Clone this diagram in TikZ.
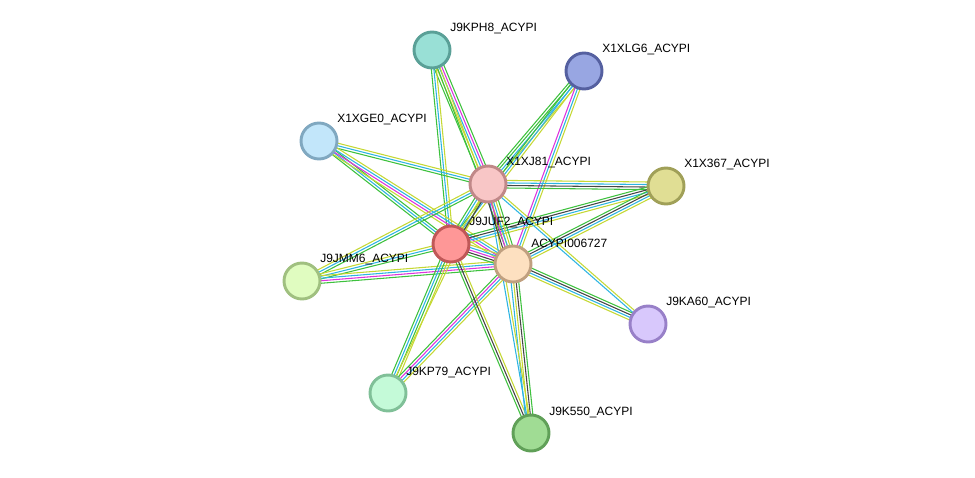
\documentclass[tikz,border=0pt]{standalone}
\usepackage{fontspec}
\newfontfamily\labelfont{Liberation Sans}
\usetikzlibrary{calc,positioning}
\pgfdeclarelayer{background}
\pgfsetlayers{background,main}

\definecolor{nbcol}{HTML}{3EC13E}
\definecolor{tmcol}{HTML}{C5D834}
\definecolor{dbcol}{HTML}{2DB4E2}
\definecolor{excol}{HTML}{DD33DD}
\definecolor{cxcol}{HTML}{454545}

\tikzset{
	protein/.style={circle, minimum size=27pt, inner sep=0pt, line width=2.2pt},
	plabel/.style={anchor=west, inner sep=0pt, font=\labelfont\fontsize{9}{10}\selectfont},
	evidence/.style={line width=0.8pt}
}

% one line per evidence channel, side by side
\newcommand{\link}[3]{
	\foreach \c [count=\i] in {#3} {\xdef\nlines{\i}}
	\foreach \c [count=\i] in {#3} {
		\pgfmathsetmacro{\off}{(\i-(\nlines+1)/2)*1.9}
		\draw[evidence, \c] ($(#1)!\off pt!90:(#2)$) -- ($(#2)!\off pt!-90:(#1)$);
	}
}

\begin{document}
\begin{tikzpicture}[x=0.75pt, y=-0.75pt]

	\useasboundingbox (0,0) rectangle (975,478);

	% proteins
	\node[protein, fill={rgb,255:red,153;green,224;blue,214}, draw={rgb,255:red,90;green,160;blue,151}] (kph8) at (432,50) {};
	\node[protein, fill={rgb,255:red,152;green,166;blue,226}, draw={rgb,255:red,85;green,96;blue,160}] (xlg6) at (584,71) {};
	\node[protein, fill={rgb,255:red,194;green,230;blue,250}, draw={rgb,255:red,128;green,168;blue,192}] (xge0) at (319,141) {};
	\node[protein, fill={rgb,255:red,248;green,198;blue,198}, draw={rgb,255:red,192;green,136;blue,136}] (xj81) at (488,184) {};
	\node[protein, fill={rgb,255:red,224;green,222;blue,148}, draw={rgb,255:red,160;green,160;blue,88}] (x367) at (666,186) {};
	\node[protein, fill={rgb,255:red,254;green,151;blue,151}, draw={rgb,255:red,192;green,88;blue,88}] (juf2) at (451,244) {};
	\node[protein, fill={rgb,255:red,253;green,224;blue,192}, draw={rgb,255:red,192;green,160;blue,128}] (a727) at (513,264) {};
	\node[protein, fill={rgb,255:red,224;green,252;blue,192}, draw={rgb,255:red,160;green,192;blue,128}] (jmm6) at (302,281) {};
	\node[protein, fill={rgb,255:red,216;green,200;blue,252}, draw={rgb,255:red,152;green,128;blue,200}] (ka60) at (648,324) {};
	\node[protein, fill={rgb,255:red,196;green,250;blue,216}, draw={rgb,255:red,128;green,192;blue,152}] (kp79) at (388,393) {};
	\node[protein, fill={rgb,255:red,160;green,220;blue,148}, draw={rgb,255:red,96;green,160;blue,88}] (k550) at (531,433) {};

	% labels
	\node[plabel] (kph8-l) at ($(kph8)+(18,-21)$) {J9KPH8\_ACYPI};
	\node[plabel] (xlg6-l) at ($(xlg6)+(18,-21)$) {X1XLG6\_ACYPI};
	\node[plabel] (xge0-l) at ($(xge0)+(18,-21)$) {X1XGE0\_ACYPI};
	\node[plabel] (xj81-l) at ($(xj81)+(18,-21)$) {X1XJ81\_ACYPI};
	\node[plabel] (x367-l) at ($(x367)+(18,-21)$) {X1X367\_ACYPI};
	\node[plabel] (juf2-l) at ($(juf2)+(18,-21)$) {J9JUF2\_ACYPI};
	\node[plabel] (a727-l) at ($(a727)+(18,-21)$) {ACYPI006727};
	\node[plabel] (jmm6-l) at ($(jmm6)+(18,-21)$) {J9JMM6\_ACYPI};
	\node[plabel] (ka60-l) at ($(ka60)+(18,-21)$) {J9KA60\_ACYPI};
	\node[plabel] (kp79-l) at ($(kp79)+(18,-21)$) {J9KP79\_ACYPI};
	\node[plabel] (k550-l) at ($(k550)+(18,-21)$) {J9K550\_ACYPI};

	% interactions
	\begin{pgfonlayer}{background}
		\link{kph8}{xj81}{nbcol,tmcol,dbcol,excol,nbcol}
		\link{kph8}{juf2}{nbcol,dbcol,tmcol}
		\link{kph8}{a727}{nbcol,tmcol}

		\link{xlg6}{xj81}{nbcol,nbcol,dbcol,tmcol}
		\link{xlg6}{juf2}{nbcol,dbcol,tmcol}
		\link{xlg6}{a727}{excol,dbcol,tmcol}

		\link{xge0}{xj81}{nbcol,dbcol,tmcol}
		\link{xge0}{juf2}{nbcol,dbcol,nbcol}
		\link{xge0}{a727}{tmcol,excol,dbcol,tmcol}

		\link{x367}{xj81}{tmcol,dbcol,cxcol,nbcol}
		\link{x367}{juf2}{nbcol,cxcol,dbcol,tmcol}
		\link{x367}{a727}{nbcol,cxcol,dbcol,tmcol}

		\link{jmm6}{xj81}{nbcol,dbcol,tmcol}
		\link{jmm6}{juf2}{nbcol,dbcol,tmcol}
		\link{jmm6}{a727}{nbcol,excol,dbcol,tmcol}

		\link{ka60}{a727}{nbcol,cxcol,dbcol,tmcol}
		\link{ka60}{xj81}{tmcol,dbcol}

		\link{kp79}{juf2}{tmcol,nbcol,dbcol,nbcol}
		\link{kp79}{a727}{tmcol,dbcol,excol,nbcol}
		\link{kp79}{xj81}{tmcol}

		\link{k550}{juf2}{tmcol,cxcol,nbcol}
		\link{k550}{a727}{nbcol,cxcol,tmcol,dbcol}
		\link{k550}{xj81}{tmcol,dbcol}

		\link{xj81}{juf2}{nbcol,dbcol,tmcol,cxcol}
		\link{xj81}{a727}{cxcol,excol,dbcol,tmcol,nbcol}
		\link{juf2}{a727}{nbcol,cxcol,excol,dbcol,tmcol}
	\end{pgfonlayer}

\end{tikzpicture}
\end{document}
